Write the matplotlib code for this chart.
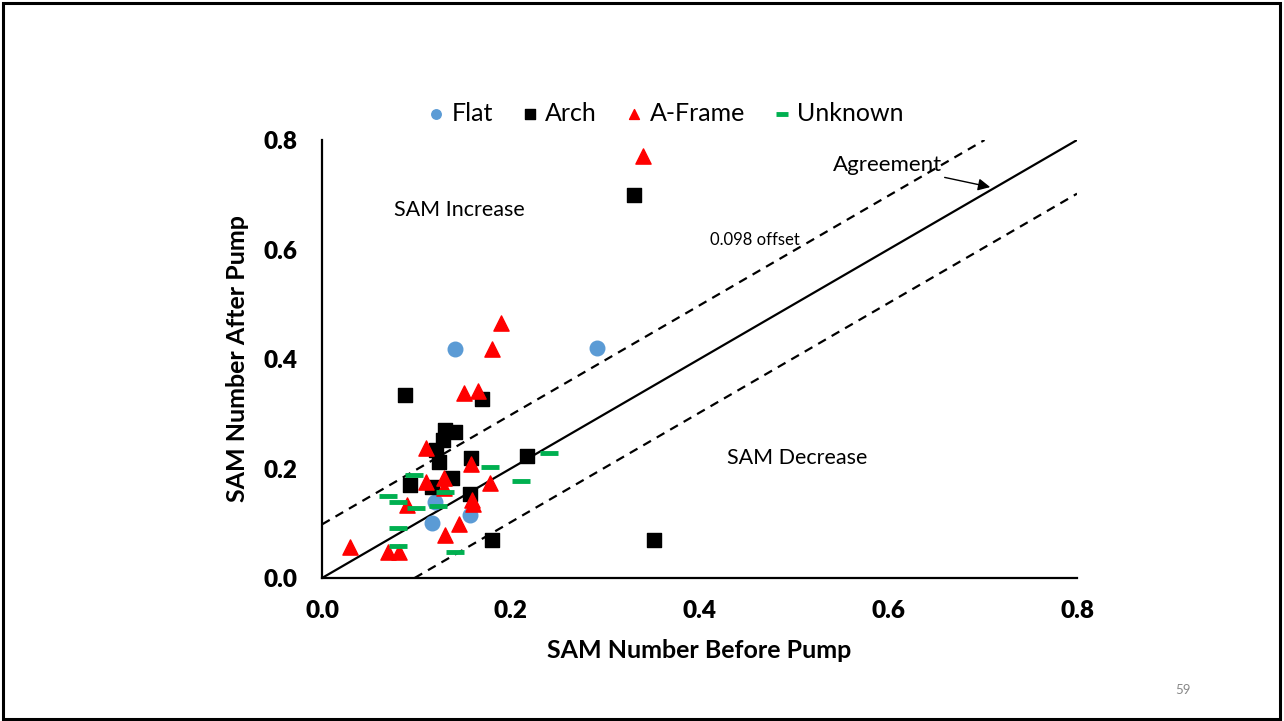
import matplotlib.pyplot as plt
from matplotlib.patches import Rectangle

plt.rcParams['font.family'] = ['Lato', 'DejaVu Sans']

# SAM numbers (before, after) by test-head type
flat_before = [0.141, 0.291, 0.120, 0.157, 0.117]
flat_after = [0.418, 0.420, 0.138, 0.115, 0.101]

arch_before = [0.331, 0.088, 0.170, 0.130, 0.141, 0.128, 0.121, 0.124, 0.158,
               0.217, 0.093, 0.116, 0.138, 0.157, 0.180, 0.352]
arch_after = [0.700, 0.334, 0.327, 0.270, 0.266, 0.252, 0.234, 0.212, 0.220,
              0.223, 0.170, 0.167, 0.183, 0.153, 0.069, 0.069]

aframe_before = [0.340, 0.190, 0.180, 0.150, 0.165, 0.110, 0.158, 0.110, 0.129,
                 0.129, 0.178, 0.090, 0.159, 0.160, 0.145, 0.130, 0.030, 0.070, 0.082]
aframe_after = [0.771, 0.465, 0.419, 0.338, 0.342, 0.237, 0.208, 0.176, 0.182,
                0.164, 0.173, 0.133, 0.142, 0.135, 0.098, 0.079, 0.057, 0.048, 0.048]

unknown_before = [0.241, 0.178, 0.211, 0.097, 0.130, 0.070, 0.081, 0.100, 0.123,
                  0.081, 0.081, 0.141]
unknown_after = [0.229, 0.202, 0.177, 0.189, 0.157, 0.149, 0.138, 0.127, 0.132,
                 0.091, 0.058, 0.048]

offset = 0.098
xmax = 0.8

fig = plt.figure(figsize=(12.84, 7.21), dpi=100)
ax = fig.add_axes([0.2508, 0.1983, 0.588, 0.6075])

# agreement line and +/- offset bands
ax.plot([0, xmax], [0, xmax], color='black', lw=1.6, zorder=1)
ax.plot([0, xmax - offset], [offset, xmax], color='black', lw=1.6,
        ls=(0, (4, 3)), zorder=1)
ax.plot([offset, xmax], [0, xmax - offset], color='black', lw=1.6,
        ls=(0, (4, 3)), zorder=1)

ax.scatter(flat_before, flat_after, marker='o', s=110, color='#5B9BD5',
           label='Flat', zorder=3)
ax.scatter(arch_before, arch_after, marker='s', s=110, color='black',
           label='Arch', zorder=3)
ax.scatter(aframe_before, aframe_after, marker='^', s=120, color='#FF0000',
           label='A-Frame', zorder=4)
ax.scatter(unknown_before, unknown_after, marker='_', s=150, color='#00B050',
           linewidths=3.5, label='Unknown', zorder=5)

ax.set_xlim(0, xmax)
ax.set_ylim(0, xmax)
ax.set_xticks([0, 0.2, 0.4, 0.6, 0.8])
ax.set_yticks([0, 0.2, 0.4, 0.6, 0.8])
ax.set_xticklabels(['0.0', '0.2', '0.4', '0.6', '0.8'], fontsize=17.5, fontweight='heavy')
ax.set_yticklabels(['0.0', '0.2', '0.4', '0.6', '0.8'], fontsize=17.5, fontweight='heavy')
ax.tick_params(axis='y', length=0, pad=18)
ax.tick_params(axis='x', length=0, pad=16)
for side in ['top', 'right']:
    ax.spines[side].set_visible(False)
for side in ['left', 'bottom']:
    ax.spines[side].set_linewidth(1.6)

ax.set_xlabel('SAM Number Before Pump', fontsize=18, fontweight='bold', labelpad=12)
ax.set_ylabel('SAM Number After Pump', fontsize=18, fontweight='bold', labelpad=10)

ax.text(0.146, 0.672, 'SAM Increase', fontsize=15.5, ha='center', va='center')
ax.text(0.503, 0.219, 'SAM Decrease', fontsize=15.5, ha='center', va='center')
ax.text(0.506, 0.617, '0.098 offset', fontsize=12, ha='right', va='center')
ax.annotate('Agreement', xy=(0.708, 0.714), xytext=(0.599, 0.754),
            fontsize=16, ha='center', va='center',
            arrowprops=dict(arrowstyle='-|>', color='black', lw=1.0,
                            mutation_scale=18, shrinkA=0, shrinkB=0))

fig.legend(loc='center', bbox_to_anchor=(0.517, 0.843), ncol=4, frameon=False,
           fontsize=18, handletextpad=0.1, columnspacing=1.0, markerscale=0.65,
           handlelength=1.0)

fig.text(0.921, 0.043, '59', fontsize=9.5, color='#888888', ha='center', va='center')

# slide border
fig.patches.append(Rectangle((0.002, 0.003), 0.995, 0.993, transform=fig.transFigure,
                             fill=False, edgecolor='black', lw=2.2))

fig.savefig('out.png', dpi=100)
